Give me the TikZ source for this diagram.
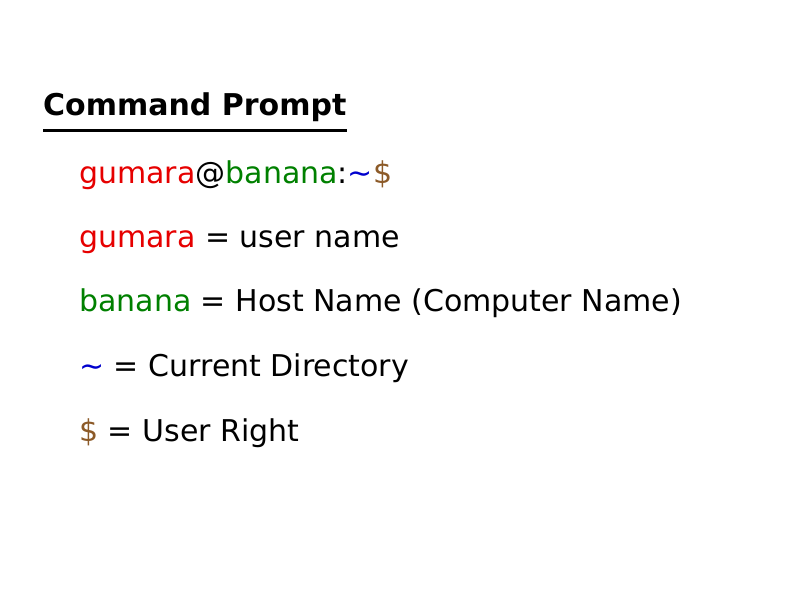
\documentclass[tikz,border=0pt]{standalone}
\usepackage{fontspec}
\setmainfont{DejaVu Sans}
\definecolor{ured}{RGB}{230,0,0}
\definecolor{hgreen}{RGB}{0,128,0}
\definecolor{dblue}{RGB}{0,0,205}
\definecolor{rbrown}{RGB}{140,90,40}
\begin{document}
\begin{tikzpicture}[x=1pt,y=-1pt,
  txt/.style={anchor=base west,inner sep=0pt,font=\fontsize{30}{36}\selectfont}]
\useasboundingbox (0,0) rectangle (800,599);
\node[txt,font=\fontsize{30}{36}\selectfont\bfseries] (title) at (43,116) {Command Prompt};
\draw[line width=3pt] (title.south west)++(0,8) coordinate (u1) -- (u1-|title.south east);
\node[txt] (l1) at (79,183) {\textcolor{ured}{gumara}@\textcolor{hgreen}{banana}:\textcolor{dblue}{\char"223C}\textcolor{rbrown}{\$}};
\node[txt] (l2) at (79,247) {\textcolor{ured}{gumara} = user name};
\node[txt] (l3) at (79,311) {\textcolor{hgreen}{banana} = Host Name (Computer Name)};
\node[txt] (l4) at (79,376) {\textcolor{dblue}{\char"223C} = Current Directory};
\node[txt] (l5) at (79,441) {\textcolor{rbrown}{\$} = User Right};
\end{tikzpicture}
\end{document}
